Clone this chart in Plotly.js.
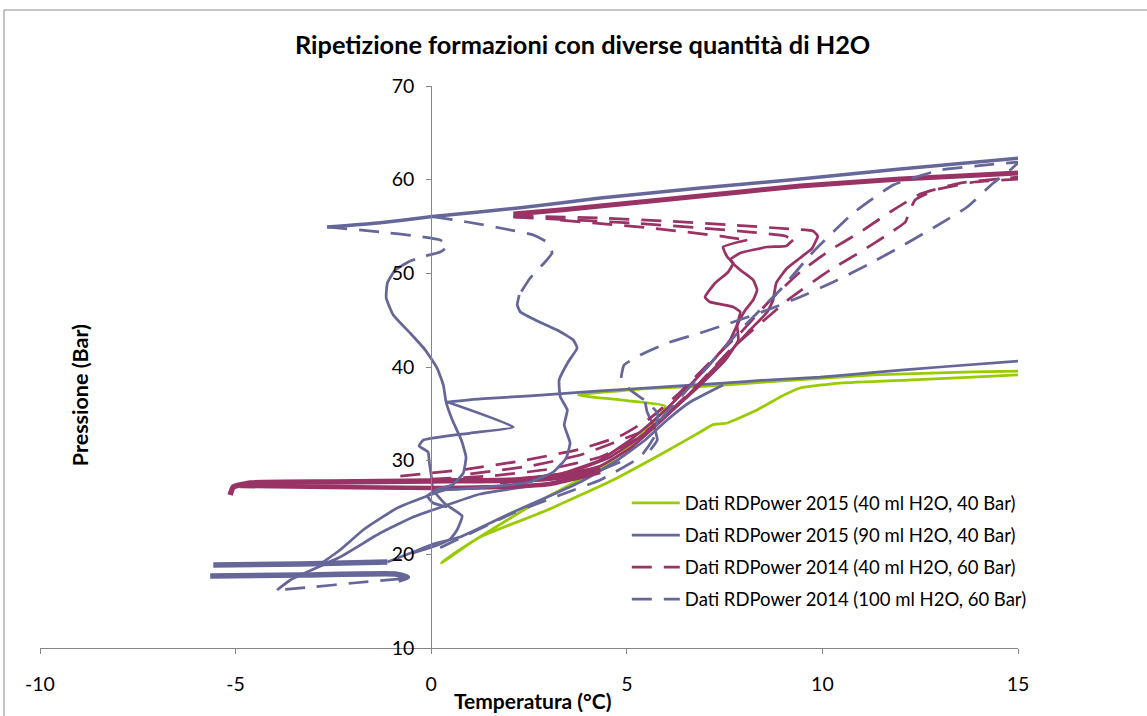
<!DOCTYPE html>
<html>
<head>
<meta charset="utf-8">
<script src="https://cdn.plot.ly/plotly-3.0.1.min.js"></script>
<style>
  html, body { margin: 0; padding: 0; background: #ffffff; }
  #chart { width: 1147px; height: 716px; }
</style>
</head>
<body>
<div id="chart"></div>
<script>
// Temperature (°C) / pressure (bar) traces recorded during hydrate formation runs.

const seriesNames = [
  'Dati RDPower 2015 (40 ml H2O, 40 Bar)',
  'Dati RDPower 2015 (90 ml H2O, 40 Bar)',
  'Dati RDPower 2014 (40 ml H2O, 60 Bar)',
  'Dati RDPower 2014 (100 ml H2O, 60 Bar)'
];
const seriesColors = ['#99CC00', '#666699', '#993366', '#666699'];
const seriesDash = ['solid', 'solid', '20px,12px', '20px,12px'];

const xTicks = [-10, -5, 0, 5, 10, 15];
const yTicks = [10, 20, 30, 40, 50, 60, 70];

// ---- 2015, 40 ml H2O, 40 bar ----
const g40LoopT = [15, 13.85, 11.30, 8.59, 7.06, 5.34, 3.76, 4.83, 5.98, 5.73, 5.34, 4.65, 3.63, 2.45, 1.00, 0.26,
                  0.49, 1.25, 2.97, 4.65, 5.93, 6.88, 7.18, 7.57, 8.33, 8.92, 9.43, 10.45, 12.17, 13.85, 15];
const g40LoopP = [39.57, 39.47, 39.15, 38.40, 37.97, 37.65, 37.01, 36.48, 35.84, 34.34, 32.63, 30.07, 27.62, 24.95, 21.21, 19.07,
                  19.82, 21.85, 24.73, 27.94, 30.82, 33.06, 33.81, 34.02, 35.41, 36.80, 37.76, 38.29, 38.61, 38.93, 39.15];

// ---- 2015, 90 ml H2O, 40 bar ----
const b90TopT = [0.41, 1.25, 2.53, 4.32, 5.85, 7.46, 8.59, 9.94, 11.48, 13.01, 15];
const b90TopP = [36.26, 36.59, 36.91, 37.44, 37.86, 38.29, 38.61, 38.93, 39.47, 40.00, 40.64];
const b90ZigT = [0.41, 2.10, 1.00, -0.20, -0.31, -0.08, -0.05, 0.00, 0.05, 0.36, 0.79, 0.66, 0.49, 0.10, -0.46];
const b90ZigP = [36.26, 33.59, 32.95, 32.21, 31.57, 30.93, 29.86, 28.47, 26.87, 25.37, 24.09, 22.60, 21.64, 20.89, 20.14];
const b90HighFlatT = [-5.57, -3.35, -1.12];
const b90HighFlatP = [18.86, 18.97, 19.18];
const b90RiseT = [-1.12, -0.46, 0.05, 0.74, 2.10, 2.97, 3.81, 4.65, 5.47, 6.03, 6.62, 7.46];
const b90RiseP = [19.18, 20.25, 21.10, 21.85, 24.52, 26.12, 27.72, 29.75, 32.21, 34.34, 36.26, 38.08];
const b90LowFlatT = [-5.65, -3.35, -0.92, -0.61, -0.84];
const b90LowFlatP = [17.69, 17.79, 17.90, 17.58, 17.26];
const b90BranchAT = [-2.76, -2.33, -1.74, -0.87, -0.10, 0.41];
const b90BranchAP = [19.18, 20.46, 22.60, 24.95, 26.23, 26.97];
const b90BranchBT = [-3.94, -3.60, -2.33, -1.30, -0.46, 0.41, 1.25, 2.53, 3.81, 4.83];
const b90BranchBP = [16.19, 17.26, 19.71, 22.28, 23.99, 25.27, 26.44, 27.30, 28.15, 29.86];
const b90KinkT = [5.47, 5.52, 5.70, 5.78, 5.60];
const b90KinkP = [36.26, 35.20, 33.59, 32.21, 31.14];

// ---- 2014, 40 ml H2O, 60 bar ----
const m40TopT = [2.10, 3.30, 4.32, 6.88, 9.43, 11.99, 13.52, 15];
const m40TopP = [56.33, 56.76, 57.19, 58.26, 59.32, 60.07, 60.39, 60.71];
const m40FlatAT = [-5.14, -5.06, -4.63, -2.58, 0, 2.28, 3.30, 4.32];
const m40FlatAP = [26.33, 27.19, 27.62, 27.72, 27.83, 27.94, 28.26, 29.22];
const m40FlatBT = [-4.88, -2.58, 0, 1.76, 3.04, 4.32];
const m40FlatBP = [27.30, 27.19, 27.08, 27.19, 27.51, 28.79];
const m40Run1T = [2.10, 4.32, 6.03, 7.72, 9.18, 9.76, 9.89];
const m40Run1P = [56.12, 55.91, 55.58, 55.16, 54.73, 54.52, 53.98];
const m40Fall1T = [9.89, 9.74, 9.43, 9.10, 8.82, 8.74, 8.59, 8.15, 7.39, 6.62, 5.85, 5.09, 4.32, 3.30, 1.76];
const m40Fall1P = [53.98, 52.70, 51.64, 50.57, 48.97, 47.15, 45.87, 43.95, 40.53, 37.22, 34.13, 31.35, 29.43, 28.15, 27.62];
const m40Run2T = [2.10, 5.16, 6.88, 8.15, 9.05, 9.25];
const m40Run2P = [56.01, 55.37, 54.84, 54.41, 53.98, 53.56];
const m40Fall2T = [9.25, 9.07, 8.59, 7.90, 7.64, 7.90, 8.23, 8.33, 8.23, 8.03, 7.82, 7.64, 7.26, 6.62, 5.85, 5.09, 4.32, 3.30, 1.76, 0];
const m40Fall2P = [53.56, 52.92, 52.81, 52.17, 51.42, 50.36, 49.29, 48.22, 47.15, 46.08, 44.48, 42.88, 40.96, 38.08, 34.87, 32.21, 30.07, 28.58, 27.94, 27.83];
const m40Run3T = [3.30, 5.60, 7.39, 8.08];
const m40Run3P = [55.69, 54.84, 53.98, 53.56];
const m40Fall3T = [8.08, 7.46, 7.57, 7.72, 7.59, 7.26, 7.00, 7.13, 7.72, 7.90, 7.82, 7.85, 7.52, 6.88, 6.11, 5.34, 4.58, 3.55, 2.28, 0.49];
const m40Fall3P = [53.56, 52.81, 51.74, 51.10, 50.14, 48.97, 47.47, 46.94, 46.40, 45.87, 44.48, 42.88, 40.75, 38.08, 35.20, 32.53, 30.39, 28.79, 28.04, 27.83];
const m40HeatAT = [-0.79, 0.74, 2.28, 3.81, 4.83, 5.60, 6.37, 7.13, 7.90, 8.67, 9.43, 10.20, 10.97, 11.73, 12.50, 13.52, 15];
const m40HeatAP = [28.36, 29.00, 29.96, 31.24, 32.63, 34.55, 37.33, 40.53, 43.63, 47.15, 50.14, 52.49, 54.41, 56.55, 58.47, 59.64, 60.28];
const m40HeatBT = [0, 1.51, 3.04, 4.32, 5.21, 6.00, 6.88, 7.64, 9.18, 10.20, 10.97, 11.73, 12.12, 12.24, 12.37, 12.88, 13.90, 15];
const m40HeatBP = [28.04, 28.36, 29.11, 30.39, 32.21, 34.87, 38.40, 41.81, 47.36, 50.36, 52.28, 54.31, 55.48, 56.76, 57.83, 58.90, 59.75, 60.07];
const m40HeatCT = [1.00, 2.53, 3.81, 4.65, 5.34];
const m40HeatCP = [28.58, 29.43, 30.60, 31.89, 33.00];

// ---- 2014, 100 ml H2O, 60 bar ----
const b100TopT = [-2.66, -1.30, 0.03, 2.28, 4.32, 6.88, 9.43, 11.99, 15];
const b100TopP = [54.95, 55.40, 56.06, 57.00, 58.04, 59.11, 60.07, 61.14, 62.30];
const b100DropAT = [-2.66, -1.30, -0.36, 0.23, 0.43, 0.23, -0.15, -0.54];
const b100DropAP = [54.95, 54.41, 53.98, 53.56, 52.92, 52.28, 51.85, 51.32];
const b100WaveAT = [-0.54, -0.92, -1.12, -1.15, -0.97, -0.54, -0.15, 0.15, 0.31, 0.38, 0.54, 0.77, 0.89, 0.82, 0.54, 0.18, -0.10, 0.05, 0.41];
const b100WaveAP = [51.32, 50.36, 48.97, 47.37, 45.55, 43.63, 41.81, 39.89, 38.08, 36.26, 34.34, 32.21, 30.39, 28.68, 27.40, 26.97, 26.23, 25.48, 25.05];
const b100DropBT = [0.03, 0.92, 1.76, 2.61, 2.99, 3.09, 2.91, 2.53, 2.25];
const b100DropBP = [56.06, 55.48, 54.84, 54.09, 53.24, 52.17, 51.21, 49.50, 47.69];
const b100WaveBT = [2.25, 2.20, 2.28, 2.66, 3.22, 3.63, 3.73, 3.50, 3.27, 3.30, 3.48, 3.40, 3.55, 3.45, 3.12, 2.53, 1.76, 0.74, 0.13];
const b100WaveBP = [47.69, 46.62, 45.87, 45.02, 43.95, 42.88, 42.03, 40.53, 38.61, 36.80, 35.41, 33.81, 31.89, 30.28, 28.79, 27.72, 27.30, 26.97, 26.87];
const b100TailT = [-0.79, -1.99, -3.02, -3.94];
const b100TailP = [17.37, 16.94, 16.51, 16.19];
const b100OuterT = [0.23, 2.10, 3.30, 4.32, 5.34, 5.73, 5.78, 5.52, 5.09, 4.86, 4.93, 5.34, 6.03, 6.88, 7.72, 8.59, 9.43, 10.28, 11.15, 11.99, 12.83, 13.70, 14.37, 14.80, 15];
const b100OuterP = [20.70, 24.41, 26.33, 27.94, 30.39, 32.74, 35.09, 36.26, 37.54, 38.82, 40.21, 41.28, 42.56, 43.63, 44.80, 46.08, 47.47, 49.07, 50.89, 52.81, 54.84, 57.08, 59.64, 61.03, 61.78];
const b100InnerT = [5.85, 6.88, 7.90, 8.92, 9.76, 10.79, 11.81, 13.01, 15];
const b100InnerP = [34.34, 39.15, 43.95, 48.22, 52.28, 56.44, 59.43, 61.03, 61.88];

// [series index, T, P, dashed?, line width, carries legend entry]
const segments = [
  [0, g40LoopT, g40LoopP, false, 2.75, true],

  [1, b90TopT, b90TopP, false, 3.5, true],
  [1, b90ZigT, b90ZigP, false, 2.75, false],
  [1, b90HighFlatT, b90HighFlatP, false, 5.5, false],
  [1, b90RiseT, b90RiseP, false, 2.75, false],
  [1, b90LowFlatT, b90LowFlatP, false, 5.5, false],
  [1, b90BranchAT, b90BranchAP, false, 2.75, false],
  [1, b90BranchBT, b90BranchBP, false, 2.75, false],
  [1, b90KinkT, b90KinkP, false, 2.75, false],

  [2, m40HeatAT, m40HeatAP, true, 2.75, true],
  [2, m40HeatBT, m40HeatBP, true, 2.75, false],
  [2, m40HeatCT, m40HeatCP, true, 2.75, false],
  [2, m40TopT, m40TopP, false, 5, false],
  [2, m40FlatAT, m40FlatAP, false, 5.5, false],
  [2, m40FlatBT, m40FlatBP, false, 4.5, false],
  [2, m40Run1T, m40Run1P, true, 2.75, false],
  [2, m40Fall1T, m40Fall1P, false, 2.75, false],
  [2, m40Run2T, m40Run2P, true, 2.75, false],
  [2, m40Fall2T, m40Fall2P, false, 2.75, false],
  [2, m40Run3T, m40Run3P, true, 2.75, false],
  [2, m40Fall3T, m40Fall3P, false, 2.75, false],

  [3, b100OuterT, b100OuterP, true, 2.75, true],
  [3, b100InnerT, b100InnerP, true, 2.75, false],
  [3, b100TopT, b100TopP, false, 3.5, false],
  [3, b100DropAT, b100DropAP, true, 2.75, false],
  [3, b100WaveAT, b100WaveAP, false, 2.75, false],
  [3, b100DropBT, b100DropBP, true, 2.75, false],
  [3, b100WaveBT, b100WaveBP, false, 2.75, false],
  [3, b100TailT, b100TailP, true, 2.75, false]
];

const traces = segments.map(([s, t, p, dashed, w, legend]) => ({
  type: 'scatter',
  mode: 'lines',
  x: t,
  y: p,
  name: seriesNames[s],
  legendgroup: 'g' + s,
  legendrank: s + 1,
  showlegend: legend,
  hoverinfo: 'skip',
  line: {
    color: seriesColors[s],
    width: legend ? 2.75 : w,
    dash: dashed ? seriesDash[s] : 'solid',
    shape: 'spline',
    smoothing: 0.4
  }
}));

const FONT = 'Lato, "Open Sans", "DejaVu Sans", sans-serif';

const layout = {
  width: 1147,
  height: 716,
  paper_bgcolor: '#ffffff',
  plot_bgcolor: '#ffffff',
  margin: { l: 40, r: 129, t: 86, b: 68 },
  font: { family: FONT, size: 18.5, color: '#000000' },
  title: {
    text: '<b>Ripetizione formazioni con diverse quantità di H2O</b>',
    font: { family: FONT, size: 25.3, color: '#000000' },
    x: 0.508, xref: 'container', xanchor: 'center',
    y: 0.937, yref: 'container', yanchor: 'middle'
  },
  xaxis: {
    range: [-10, 15],
    tickvals: xTicks,
    ticktext: xTicks.map(String),
    ticks: 'outside', ticklen: 5, tickwidth: 1, tickcolor: '#868686',
    showline: true, linecolor: '#868686', linewidth: 1,
    showgrid: false, zeroline: false,
    ticklabelstandoff: 14,
    tickfont: { family: FONT, size: 19.5, color: '#000000' },
    fixedrange: true
  },
  yaxis: {
    range: [10, 70],
    tickvals: yTicks,
    ticktext: yTicks.map(String),
    anchor: 'free', position: 0.4,
    ticks: 'outside', ticklen: 5, tickwidth: 1, tickcolor: '#868686',
    showline: true, linecolor: '#868686', linewidth: 1,
    showgrid: false, zeroline: false,
    ticklabelstandoff: 8,
    tickfont: { family: FONT, size: 19.5, color: '#000000' },
    fixedrange: true
  },
  legend: {
    x: 0.6, xanchor: 'left',
    y: 0.291, yanchor: 'top',
    bgcolor: 'rgba(0,0,0,0)',
    font: { family: FONT, size: 18.5, color: '#000000' },
    itemwidth: 48,
    tracegroupgap: 5,
    traceorder: 'grouped'
  },
  annotations: [
    {
      text: '<b>Temperatura (°C)</b>',
      xref: 'paper', yref: 'paper', x: 0.504, y: -0.094,
      xanchor: 'center', yanchor: 'middle', showarrow: false,
      font: { family: FONT, size: 21, color: '#000000' }
    },
    {
      text: '<b>Pressione (Bar)</b>',
      xref: 'paper', yref: 'paper', x: 0.041, y: 0.45,
      xanchor: 'center', yanchor: 'middle', textangle: -90, showarrow: false,
      font: { family: FONT, size: 21.5, color: '#000000' }
    }
  ],
  shapes: [
    {
      type: 'rect', xref: 'paper', yref: 'paper',
      x0: -0.0368, x1: 1.14, y0: -0.14, y1: 1.1352,
      line: { color: '#8c8c8c', width: 1 }, fillcolor: 'rgba(0,0,0,0)', layer: 'below'
    }
  ],
  showlegend: true
};

Plotly.newPlot('chart', traces, layout, { displayModeBar: false, staticPlot: true });
</script>
</body>
</html>
